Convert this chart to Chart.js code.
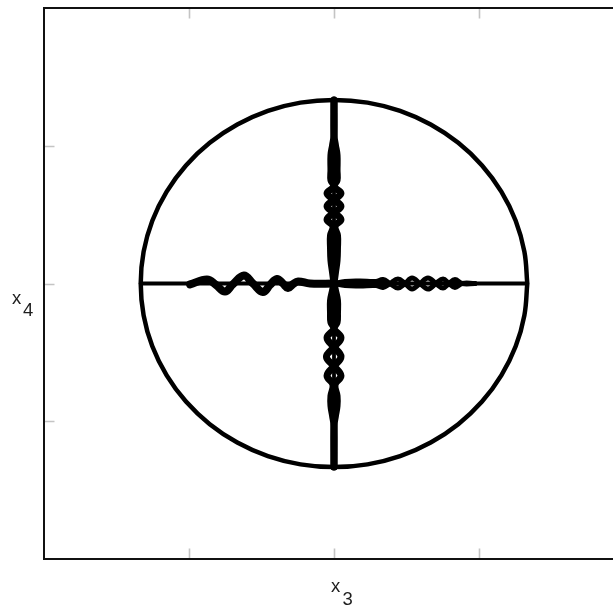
<!DOCTYPE html>
<html>
<head>
<meta charset="utf-8">
<title>x3 / x4 phase portrait</title>
<script src="https://cdn.jsdelivr.net/npm/chart.js@4/dist/chart.umd.min.js"></script>
<style>
  html, body { margin: 0; padding: 0; background: #fff; overflow: hidden; }
  canvas { display: block; }
</style>
</head>
<body>
<canvas id="portrait" width="640" height="606" style="width:640px;height:606px"></canvas>
<script>
// Axis ranges and tick positions (ticks are unlabeled)
const xRange = [-2, 2];
const yRange = [-2, 2];
const xTickValues = [-1, 0, 1];
const yTickValues = [-1, 0, 1];

// Outer invariant circle, sampled every 10 degrees
const circleX = [1.333,1.313,1.253,1.154,1.021,0.857,0.667,0.456,0.231,0,-0.231,-0.456,-0.667,-0.857,-1.021,-1.154,-1.253,-1.313,-1.333,-1.313,-1.253,-1.154,-1.021,-0.857,-0.667,-0.456,-0.231,0,0.231,0.456,0.667,0.857,1.021,1.154,1.253,1.313,1.333];
const circleY = [0,0.231,0.456,0.667,0.857,1.021,1.154,1.253,1.313,1.333,1.313,1.253,1.154,1.021,0.857,0.667,0.456,0.231,0,-0.231,-0.456,-0.667,-0.857,-1.021,-1.154,-1.253,-1.313,-1.333,-1.313,-1.253,-1.154,-1.021,-0.857,-0.667,-0.456,-0.231,0];

// Straight diameters of the cross
const crossHX = [-1.333, 1.333];
const crossHY = [0, 0];
const crossVX = [0, 0];
const crossVY = [1.333, -1.333];

// West arm: single oscillating trajectory
const westX = [-0.993,-0.876,-0.814,-0.752,-0.697,-0.621,-0.559,-0.490,-0.441,-0.393,-0.352,-0.317,-0.283,-0.248,-0.166,0];
const westY = [-0.007,0.029,-0.010,-0.058,-0.005,0.058,0,-0.062,-0.010,0.033,0,-0.033,-0.005,0.015,0,0];

// East arm: two intertwined trajectories
const eastX  = [0,0.076,0.179,0.290,0.338,0.386,0.441,0.490,0.538,0.593,0.648,0.703,0.752,0.793,0.834,0.883,0.972];
const eastAY = [0,0.015,0.018,0.015,0.029,0,-0.033,0,0.040,0,-0.040,0,0.033,0,-0.029,0,0];
const eastBY = [0,-0.015,-0.018,-0.015,-0.029,0,0.033,0,-0.040,0,0.040,0,-0.033,0,0.029,0,0];

// North arm: two intertwined trajectories
const northY  = [1.333,1.076,1.004,0.931,0.822,0.749,0.705,0.655,0.607,0.560,0.513,0.465,0.415,0.349,0.255,0.167,0.080,0];
const northAX = [0,0,-0.010,-0.021,-0.021,-0.021,0,-0.048,0,0.048,0,-0.048,-0.007,-0.024,-0.024,-0.021,-0.010,0];
const northBX = [0,0,0.010,0.021,0.021,0.021,0,0.048,0,-0.048,0,0.048,0.007,0.024,0.024,0.021,0.010,0];

// South arm: two intertwined trajectories
const southY  = [0,-0.051,-0.124,-0.211,-0.284,-0.327,-0.393,-0.462,-0.531,-0.600,-0.669,-0.735,-0.815,-0.887,-0.960,-1.033,-1.333];
const southAX = [0,-0.010,-0.024,-0.024,-0.021,0,-0.048,0,0.048,0,-0.048,-0.007,-0.021,-0.021,-0.010,0,0];
const southBX = [0,0.010,0.024,0.024,0.021,0,0.048,0,-0.052,0,0.048,0.007,0.021,0.021,0.010,0,0];

const zip = (xs, ys) => xs.map((x, i) => ({ x: x, y: ys[i] }));

function curve(points, width) {
  return {
    data: points,
    showLine: true,
    borderColor: '#000',
    backgroundColor: '#000',
    borderWidth: width,
    pointRadius: 0,
    pointHoverRadius: 0,
    tension: 0.4,
    borderJoinStyle: 'round',
    borderCapStyle: 'round',
    fill: false
  };
}

// Box outline, inward gray ticks on all four sides, and subscripted axis names
const framePlugin = {
  id: 'frameAndTicks',
  afterDraw(chart) {
    const ctx = chart.ctx;
    const a = chart.chartArea;
    const xs = chart.scales.x;
    const ys = chart.scales.y;
    const len = 10.5;
    ctx.save();
    ctx.strokeStyle = '#c4c4c4';
    ctx.lineWidth = 1.6;
    ctx.beginPath();
    xTickValues.forEach(v => {
      const px = Math.round(xs.getPixelForValue(v)) + 0.5;
      ctx.moveTo(px, a.bottom); ctx.lineTo(px, a.bottom - len);
      ctx.moveTo(px, a.top);    ctx.lineTo(px, a.top + len);
    });
    yTickValues.forEach(v => {
      const py = Math.round(ys.getPixelForValue(v)) + 0.5;
      ctx.moveTo(a.left, py);  ctx.lineTo(a.left + len, py);
      ctx.moveTo(a.right, py); ctx.lineTo(a.right - len, py);
    });
    ctx.stroke();

    ctx.strokeStyle = '#111';
    ctx.lineWidth = 2;
    ctx.strokeRect(a.left, a.top, a.right - a.left, a.bottom - a.top);

    ctx.fillStyle = '#1e1e1e';
    ctx.font = '18.5px "Liberation Sans", Arial, sans-serif';
    ctx.textBaseline = 'alphabetic';
    ctx.textAlign = 'left';
    const cx = xs.getPixelForValue(0);
    ctx.fillText('x', cx - 3, a.bottom + 33);
    ctx.fillText('3', cx + 8.5, a.bottom + 46);
    const cy = ys.getPixelForValue(0);
    ctx.fillText('x', 12, cy + 20.5);
    ctx.fillText('4', 23, cy + 32);
    ctx.restore();
  }
};

new Chart(document.getElementById('portrait'), {
  type: 'scatter',
  data: {
    datasets: [
      curve(zip(circleX, circleY), 4.5),
      curve(zip(crossHX, crossHY), 3.8),
      curve(zip(crossVX, crossVY), 3.8),
      curve(zip(westX, westY), 8),
      curve(zip(eastX, eastAY), 5),
      curve(zip(eastX, eastBY), 5),
      curve(zip(northAX, northY), 7),
      curve(zip(northBX, northY), 7),
      curve(zip(southAX, southY), 7),
      curve(zip(southBX, southY), 7)
    ]
  },
  options: {
    responsive: false,
    devicePixelRatio: 1,
    animation: false,
    events: [],
    layout: { padding: { left: 44, top: 8, right: 16, bottom: 47 } },
    plugins: {
      legend: { display: false },
      tooltip: { enabled: false }
    },
    scales: {
      x: { type: 'linear', min: xRange[0], max: xRange[1], display: false },
      y: { type: 'linear', min: yRange[0], max: yRange[1], display: false }
    }
  },
  plugins: [framePlugin]
});
</script>
</body>
</html>
